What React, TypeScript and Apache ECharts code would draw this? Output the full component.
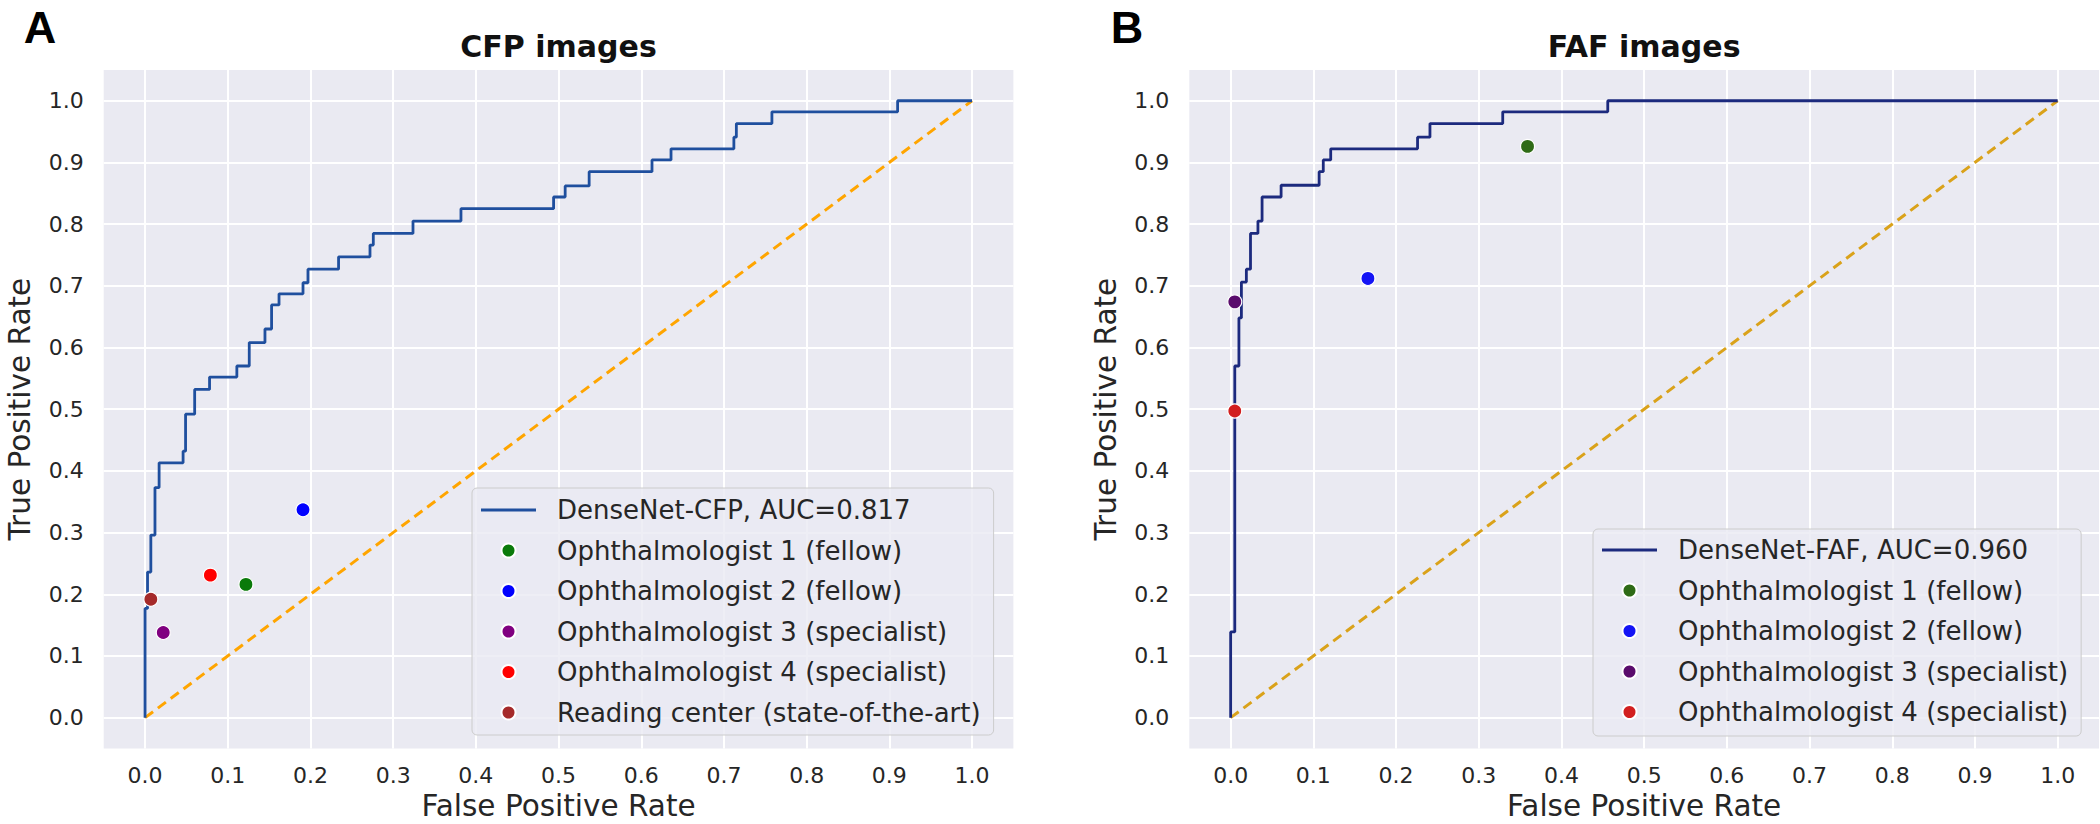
import React, { useEffect, useRef } from "react";
import * as echarts from "echarts";

// ---------- data ----------
const TICKS = [0, 0.1, 0.2, 0.3, 0.4, 0.5, 0.6, 0.7, 0.8, 0.9, 1.0];
const TICK_LABELS = ["0.0", "0.1", "0.2", "0.3", "0.4", "0.5", "0.6", "0.7", "0.8", "0.9", "1.0"];

const CHANCE_X = [0, 1];
const CHANCE_Y = [0, 1];

// Panel A: CFP images, DenseNet ROC curve (corner points)
const CFP_FPR = [
  0, 0, 0.003, 0.003, 0.007, 0.007, 0.012, 0.012, 0.017, 0.017,
  0.046, 0.046, 0.049, 0.049, 0.06, 0.06, 0.078, 0.078, 0.111, 0.111,
  0.126, 0.126, 0.145, 0.145, 0.153, 0.153, 0.162, 0.162, 0.191, 0.191,
  0.197, 0.197, 0.234, 0.234, 0.272, 0.272, 0.276, 0.276, 0.324, 0.324,
  0.382, 0.382, 0.494, 0.494, 0.508, 0.508, 0.537, 0.537, 0.613, 0.613,
  0.636, 0.636, 0.712, 0.712, 0.715, 0.715, 0.758, 0.758, 0.91, 0.91,
  1.0,
];
const CFP_TPR = [
  0, 0.177, 0.177, 0.236, 0.236, 0.296, 0.296, 0.373, 0.373, 0.413,
  0.413, 0.432, 0.432, 0.492, 0.492, 0.532, 0.532, 0.552, 0.552, 0.57,
  0.57, 0.608, 0.608, 0.63, 0.63, 0.669, 0.669, 0.687, 0.687, 0.705,
  0.705, 0.727, 0.727, 0.747, 0.747, 0.766, 0.766, 0.785, 0.785, 0.805,
  0.805, 0.825, 0.825, 0.844, 0.844, 0.862, 0.862, 0.885, 0.885, 0.904,
  0.904, 0.922, 0.922, 0.941, 0.941, 0.963, 0.963, 0.982, 0.982, 1.0,
  1.0,
];

// Panel B: FAF images, DenseNet ROC curve (corner points)
const FAF_FPR = [
  0, 0, 0.005, 0.005, 0.01, 0.01, 0.013, 0.013, 0.019, 0.019,
  0.024, 0.024, 0.033, 0.033, 0.038, 0.038, 0.061, 0.061, 0.107, 0.107,
  0.112, 0.112, 0.121, 0.121, 0.226, 0.226, 0.241, 0.241, 0.329, 0.329,
  0.456, 0.456, 1.0,
];
const FAF_TPR = [
  0, 0.139, 0.139, 0.57, 0.57, 0.648, 0.648, 0.706, 0.706, 0.727,
  0.727, 0.785, 0.785, 0.805, 0.805, 0.844, 0.844, 0.863, 0.863, 0.885,
  0.885, 0.904, 0.904, 0.922, 0.922, 0.941, 0.941, 0.963, 0.963, 0.982,
  0.982, 1.0, 1.0,
];

// Human graders
const CFP_RATERS = [
  "Ophthalmologist 1 (fellow)",
  "Ophthalmologist 2 (fellow)",
  "Ophthalmologist 3 (specialist)",
  "Ophthalmologist 4 (specialist)",
  "Reading center (state-of-the-art)",
];
const CFP_RATER_FPR = [0.122, 0.191, 0.022, 0.079, 0.007];
const CFP_RATER_TPR = [0.216, 0.337, 0.138, 0.231, 0.192];
const CFP_RATER_COLORS = ["#0a7a0a", "#0000ff", "#800080", "#ff0000", "#a52a2a"];

const FAF_RATERS = [
  "Ophthalmologist 1 (fellow)",
  "Ophthalmologist 2 (fellow)",
  "Ophthalmologist 3 (specialist)",
  "Ophthalmologist 4 (specialist)",
];
const FAF_RATER_FPR = [0.359, 0.166, 0.005, 0.005];
const FAF_RATER_TPR = [0.926, 0.712, 0.674, 0.497];
const FAF_RATER_COLORS = ["#2f6b16", "#1414f5", "#5a0c6c", "#d21f1f"];

const CFP_MODEL = "DenseNet-CFP, AUC=0.817";
const FAF_MODEL = "DenseNet-FAF, AUC=0.960";

// ---------- helpers ----------
const FONT = '"DejaVu Sans", sans-serif';
const TEXT = "#262626";
const CFP_LINE = "#1f4f9e";
const FAF_LINE = "#1c2a7e";
const LINE_ICON = "path://M0,0 L55,0 L55,3 L0,3 Z";

const zip = (xs: number[], ys: number[]) => xs.map((x, i) => [x, ys[i]]);

const tickFormatter = (v: number) => {
  const i = TICKS.findIndex((t) => Math.abs(t - v) < 1e-6);
  return i >= 0 ? TICK_LABELS[i] : "";
};

const GRIDS = [
  { left: 103.7, top: 69.9, width: 909.7, height: 678.6 },
  { left: 1189.3, top: 69.9, width: 909.7, height: 678.6 },
];

function makeAxis(gi: number, dim: "x" | "y") {
  return {
    type: "value",
    gridIndex: gi,
    min: -0.05,
    max: 1.05,
    interval: 0.05,
    axisLine: { show: true, onZero: false, lineStyle: { color: "rgba(255,255,255,0)", width: 1 } },
    axisTick: { show: false },
    splitLine: {
      show: true,
      lineStyle: { color: ["rgba(255,255,255,0)", "#ffffff"], width: 2 },
    },
    axisLabel: {
      formatter: tickFormatter,
      fontSize: 22,
      color: TEXT,
      fontFamily: FONT,
      margin: dim === "x" ? 16 : 20,
    },
    name: dim === "x" ? "False Positive Rate" : "True Positive Rate",
    nameLocation: "middle",
    nameGap: dim === "x" ? 43 : 69,
    nameTextStyle: { fontSize: 29.5, lineHeight: 29, color: TEXT, fontFamily: FONT },
  };
}

function buildOption() {
  const series: any[] = [];
  // chance diagonals
  series.push({
    type: "line",
    xAxisIndex: 0,
    yAxisIndex: 0,
    data: zip(CHANCE_X, CHANCE_Y),
    symbol: "none",
    lineStyle: { color: "#FFA500", width: 3, type: [10, 6] },
    z: 2,
    silent: true,
  });
  series.push({
    type: "line",
    xAxisIndex: 1,
    yAxisIndex: 1,
    data: zip(CHANCE_X, CHANCE_Y),
    symbol: "none",
    lineStyle: { color: "#DAA21A", width: 3, type: [10, 6] },
    z: 2,
    silent: true,
  });
  // ROC curves
  series.push({
    type: "line",
    name: CFP_MODEL,
    xAxisIndex: 0,
    yAxisIndex: 0,
    data: zip(CFP_FPR, CFP_TPR),
    symbol: "none",
    showSymbol: false,
    lineStyle: { color: CFP_LINE, width: 2.8 },
    itemStyle: { color: CFP_LINE },
    z: 3,
  });
  series.push({
    type: "line",
    name: FAF_MODEL,
    xAxisIndex: 1,
    yAxisIndex: 1,
    data: zip(FAF_FPR, FAF_TPR),
    symbol: "none",
    showSymbol: false,
    lineStyle: { color: FAF_LINE, width: 2.8 },
    itemStyle: { color: FAF_LINE },
    z: 3,
  });
  CFP_RATERS.forEach((name, i) => {
    series.push({
      type: "scatter",
      name,
      xAxisIndex: 0,
      yAxisIndex: 0,
      data: [[CFP_RATER_FPR[i], CFP_RATER_TPR[i]]],
      symbol: "circle",
      symbolSize: 14,
      itemStyle: { color: CFP_RATER_COLORS[i], borderColor: "#ffffff", borderWidth: 1.2, opacity: 1 },
      z: 4,
    });
  });
  FAF_RATERS.forEach((name, i) => {
    series.push({
      type: "scatter",
      name,
      xAxisIndex: 1,
      yAxisIndex: 1,
      data: [[FAF_RATER_FPR[i], FAF_RATER_TPR[i]]],
      symbol: "circle",
      symbolSize: 14,
      itemStyle: { color: FAF_RATER_COLORS[i], borderColor: "#ffffff", borderWidth: 1.2, opacity: 1 },
      z: 4,
    });
  });

  const legendBase = {
    orient: "vertical",
    itemWidth: 55,
    itemHeight: 14,
    itemGap: 14.5,
    selectedMode: false,
    backgroundColor: "rgba(234,234,242,0.8)",
    borderColor: "#cccccc",
    borderWidth: 1,
    borderRadius: 5,
    textStyle: {
      fontFamily: FONT,
      fontSize: 26,
      lineHeight: 26,
      color: TEXT,
      padding: [0, 0, 0, 16],
    },
  };

  return {
    animation: false,
    backgroundColor: "#ffffff",
    grid: GRIDS.map((g) => ({
      ...g,
      show: true,
      backgroundColor: "#EAEAF2",
      borderWidth: 0,
      outerBoundsMode: "none",
    })),
    xAxis: [makeAxis(0, "x"), makeAxis(1, "x")],
    yAxis: [makeAxis(0, "y"), makeAxis(1, "y")],
    legend: [
      {
        ...legendBase,
        left: 472,
        top: 488,
        padding: [9, 13, 9.5, 9],
        data: [
          { name: CFP_MODEL, icon: LINE_ICON, itemStyle: { color: CFP_LINE } },
          ...CFP_RATERS,
        ],
      },
      {
        ...legendBase,
        left: 1593,
        top: 529,
        padding: [8, 13, 11, 9],
        data: [
          { name: FAF_MODEL, icon: LINE_ICON, itemStyle: { color: FAF_LINE } },
          ...FAF_RATERS.map((name, i) => ({
            name,
            itemStyle: { color: FAF_RATER_COLORS[i] },
          })),
        ],
      },
    ],
    graphic: [
      {
        type: "text",
        x: 40,
        y: 27,
        style: {
          text: "A",
          font: 'bold 45px "Liberation Sans", Arial, sans-serif',
          fill: "#000000",
          textAlign: "center",
          textVerticalAlign: "middle",
        },
      },
      {
        type: "text",
        x: 1127,
        y: 27,
        style: {
          text: "B",
          font: 'bold 45px "Liberation Sans", Arial, sans-serif',
          fill: "#000000",
          textAlign: "center",
          textVerticalAlign: "middle",
        },
      },
      {
        type: "text",
        x: GRIDS[0].left + GRIDS[0].width / 2,
        y: 46,
        style: {
          text: "CFP images",
          font: 'bold 30px "DejaVu Sans", sans-serif',
          fill: "#111111",
          textAlign: "center",
          textVerticalAlign: "middle",
        },
      },
      {
        type: "text",
        x: GRIDS[1].left + GRIDS[1].width / 2,
        y: 46,
        style: {
          text: "FAF images",
          font: 'bold 30px "DejaVu Sans", sans-serif',
          fill: "#111111",
          textAlign: "center",
          textVerticalAlign: "middle",
        },
      },
    ],
    series,
  };
}

export default function App() {
  const ref = useRef<HTMLDivElement | null>(null);
  useEffect(() => {
    if (!ref.current) return;
    const chart = echarts.init(ref.current, undefined, { renderer: "svg" });
    chart.setOption(buildOption() as any);
    return () => {
      chart.dispose();
    };
  }, []);
  return (
    <div
      ref={ref}
      style={{ position: "fixed", left: 0, top: 0, width: 2100, height: 824, background: "#ffffff" }}
    />
  );
}
